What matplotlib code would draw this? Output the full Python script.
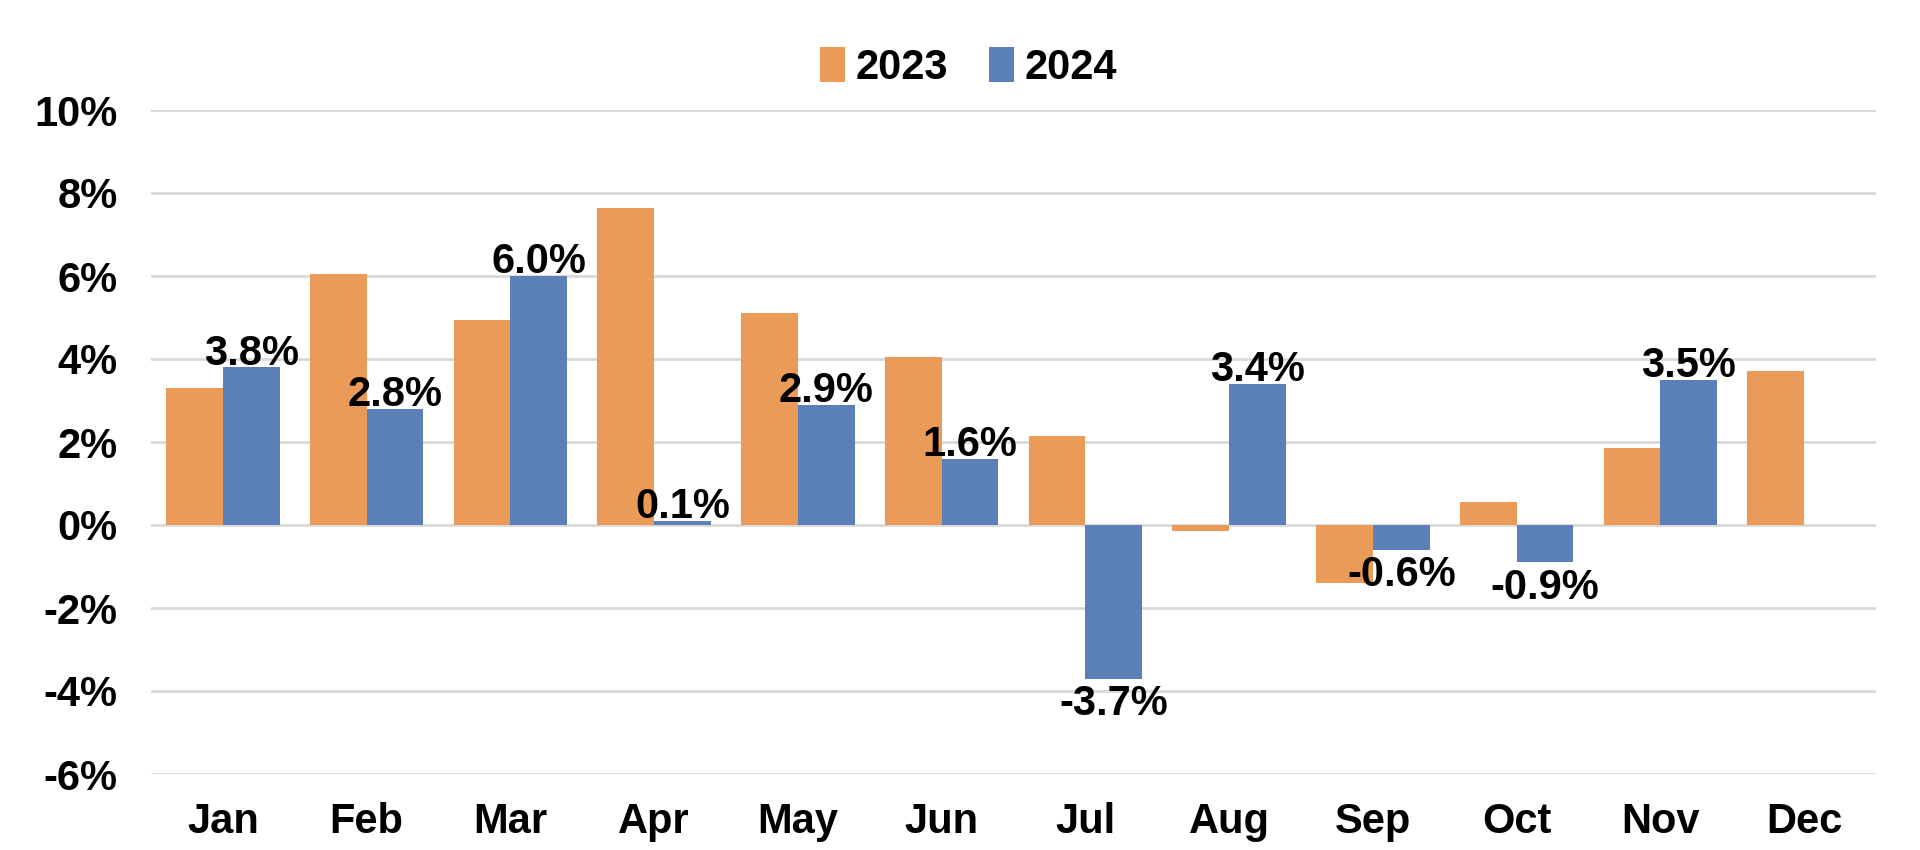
"""Monthly change, 2023 vs 2024, grouped bars."""

import matplotlib
matplotlib.use("Agg")
import matplotlib.pyplot as plt
import numpy as np

MONTHS = ["Jan", "Feb", "Mar", "Apr", "May", "Jun",
          "Jul", "Aug", "Sep", "Oct", "Nov", "Dec"]
VALUES_2023 = [3.3, 6.05, 4.95, 7.65, 5.1, 4.05, 2.15, -0.15, -1.4, 0.55, 1.85, 3.7]
VALUES_2024 = [3.8, 2.8, 6.0, 0.1, 2.9, 1.6, -3.7, 3.4, -0.6, -0.9, 3.5]
Y_TICKS = [-6, -4, -2, 0, 2, 4, 6, 8, 10]

ORANGE = "#EB9B58"
BLUE = "#5B80B8"
FONT = 30

plt.rcParams["font.family"] = ["Liberation Sans", "DejaVu Sans"]
plt.rcParams["font.weight"] = "bold"

fig = plt.figure(figsize=(19.2, 8.5), dpi=100)
ax = fig.add_axes([151 / 1920, 76 / 850, 1725 / 1920, 664 / 850])

x = np.arange(len(MONTHS))
width = 0.395
ax.bar(x - width / 2, VALUES_2023, width, color=ORANGE, label="2023", zorder=2)
x24 = x[:len(VALUES_2024)] + width / 2
ax.bar(x24, VALUES_2024, width, color=BLUE, label="2024", zorder=2)

# labels on the 2024 bars only
for xi, v in zip(x24, VALUES_2024):
    if v >= 0:
        ax.annotate(f"{v:.1f}%", (xi, v), xytext=(0, 2), textcoords="offset points",
                    ha="center", va="baseline", fontsize=FONT, fontweight="bold", zorder=3)
    else:
        ax.annotate(f"{v:.1f}%", (xi, v), xytext=(0, -4), textcoords="offset points",
                    ha="center", va="top", fontsize=FONT, fontweight="bold", zorder=3)

ax.set_xlim(-0.5, len(MONTHS) - 0.5)
ax.set_ylim(-6, 10)
ax.set_xticks(x)
ax.set_xticklabels(MONTHS)
ax.set_yticks(Y_TICKS)
ax.set_yticklabels([f"{t}%" for t in Y_TICKS])
ax.tick_params(axis="both", length=0, labelsize=FONT)
ax.tick_params(axis="x", pad=20)
ax.tick_params(axis="y", pad=24)
ax.grid(axis="y", color="#d9d9d9", linewidth=2, zorder=0)
ax.set_axisbelow(True)
for spine in ax.spines.values():
    spine.set_visible(False)

ax.legend(loc="upper center", bbox_to_anchor=(0.474, 1.0 + 100 / 664), ncol=2,
          frameon=False, fontsize=FONT, handlelength=0.6, handleheight=0.9,
          handletextpad=0.25, columnspacing=1.0)

fig.savefig("out.png", dpi=100)
